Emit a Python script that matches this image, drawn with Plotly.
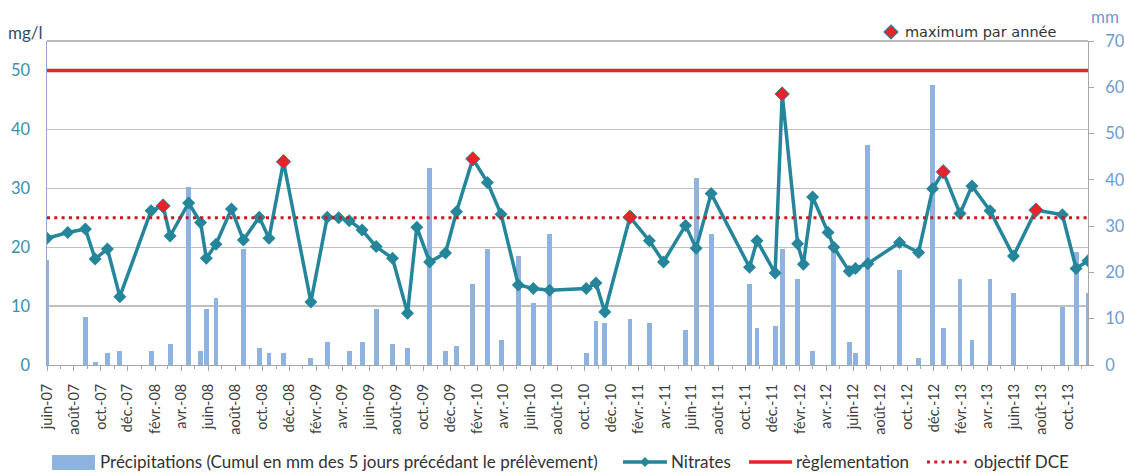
import plotly.graph_objects as go

# ---------------- data ----------------
dates = [
    "2007-06-01", "2007-07-18", "2007-08-27", "2007-09-18", "2007-10-16", "2007-11-13",
    "2008-01-23", "2008-02-19", "2008-03-06", "2008-04-17", "2008-05-14", "2008-05-27",
    "2008-06-18", "2008-07-23", "2008-08-19", "2008-09-24", "2008-10-16", "2008-11-18",
    "2009-01-19", "2009-02-25", "2009-03-23", "2009-04-16", "2009-05-15", "2009-06-16",
    "2009-07-23", "2009-08-26", "2009-09-16", "2009-10-15", "2009-11-20", "2009-12-15",
    "2010-01-21", "2010-02-23", "2010-03-26", "2010-05-04", "2010-06-07", "2010-07-14",
    "2010-10-05", "2010-10-27", "2010-11-16", "2011-01-12", "2011-02-25", "2011-03-29",
    "2011-05-18", "2011-06-11", "2011-07-15", "2011-10-10", "2011-10-27", "2011-12-07",
    "2011-12-23", "2012-01-27", "2012-02-09", "2012-03-01", "2012-04-05", "2012-04-18",
    "2012-05-23", "2012-06-06", "2012-07-04", "2012-09-14", "2012-10-27", "2012-11-28",
    "2012-12-22", "2013-01-29", "2013-02-25", "2013-04-07", "2013-05-30", "2013-07-20",
    "2013-09-18", "2013-10-19", "2013-11-15",
]
nitrates = [
    21.5, 22.5, 23.1, 18.0, 19.7, 11.6,
    26.2, 27.0, 21.9, 27.5, 24.2, 18.1,
    20.5, 26.5, 21.2, 25.1, 21.5, 34.5,
    10.7, 25.1, 25.0, 24.5, 22.9, 20.1,
    18.1, 8.8, 23.4, 17.5, 19.0, 26.0,
    35.0, 31.0, 25.6, 13.6, 13.0, 12.7,
    13.0, 13.9, 9.0, 25.1, 21.1, 17.5,
    23.7, 19.8, 29.1, 16.6, 21.1, 15.6,
    46.0, 20.6, 17.1, 28.5, 22.5, 20.0,
    15.9, 16.4, 17.2, 20.8, 19.1, 29.9,
    32.8, 25.7, 30.4, 26.2, 18.5, 26.3,
    25.5, 16.4, 17.7,
]
precipitations = [
    22.7, 0, 10.3, 0.7, 2.5, 3.1,
    3.0, 0, 4.5, 38.5, 3.0, 12.0,
    14.5, 0, 25.0, 3.6, 2.5, 2.5,
    1.6, 5.0, 0, 3.0, 5.0, 12.0,
    4.5, 3.6, 0, 42.5, 3.0, 4.0,
    17.5, 25.0, 5.4, 23.5, 13.5, 28.4,
    2.5, 9.5, 9.0, 10.0, 9.0, 0,
    7.6, 40.5, 28.4, 17.5, 7.9, 8.5,
    25.0, 18.5, 0, 3.0, 0, 25.0,
    5.0, 2.5, 47.5, 20.5, 1.6, 60.5,
    7.9, 18.5, 5.5, 18.5, 15.5, 0,
    12.6, 24.5, 15.5,
]
max_dates = ["2008-02-19", "2008-11-18", "2010-01-21", "2011-01-12",
             "2011-12-23", "2012-12-22", "2013-07-20"]
max_values = [27.0, 34.5, 35.0, 25.1, 46.0, 32.8, 26.3]

reglementation = 50
objectif_dce = 25

tick_dates = [
    "2007-06-01", "2007-08-01", "2007-10-01", "2007-12-01",
    "2008-02-01", "2008-04-01", "2008-06-01", "2008-08-01", "2008-10-01", "2008-12-01",
    "2009-02-01", "2009-04-01", "2009-06-01", "2009-08-01", "2009-10-01", "2009-12-01",
    "2010-02-01", "2010-04-01", "2010-06-01", "2010-08-01", "2010-10-01", "2010-12-01",
    "2011-02-01", "2011-04-01", "2011-06-01", "2011-08-01", "2011-10-01", "2011-12-01",
    "2012-02-01", "2012-04-01", "2012-06-01", "2012-08-01", "2012-10-01", "2012-12-01",
    "2013-02-01", "2013-04-01", "2013-06-01", "2013-08-01", "2013-10-01",
]
tick_labels = [
    "juin-07", "août-07", "oct.-07", "déc.-07",
    "févr.-08", "avr.-08", "juin-08", "août-08", "oct.-08", "déc.-08",
    "févr.-09", "avr.-09", "juin-09", "août-09", "oct.-09", "déc.-09",
    "févr.-10", "avr.-10", "juin-10", "août-10", "oct.-10", "déc.-10",
    "févr.-11", "avr.-11", "juin-11", "août-11", "oct.-11", "déc.-11",
    "févr.-12", "avr.-12", "juin-12", "août-12", "oct.-12", "déc.-12",
    "févr.-13", "avr.-13", "juin-13", "août-13", "oct.-13",
]
x_start, x_end = dates[0], dates[-1]

NAME_BARS = "Précipitations (Cumul en mm des 5 jours précédant le prélèvement)"
NAME_NITRATES = "Nitrates"
NAME_REGL = "règlementation"
NAME_DCE = "objectif DCE"
NAME_MAX = "maximum par année"

# ---------------- styles ----------------
FONT = "Lato"
BAR_COLOR = "#8fb3e0"
LINE_COLOR = "#24859b"
RED = "#e8232a"
DOT_RED = "#c8191f"
DOT_DASH = "3px,4.3px"
BAR_WIDTH_MS = 11 * 24 * 3600 * 1000

W, H = 1124, 472
L, R, T, B = 47, 36, 41, 107
PW, PH = W - L - R, H - T - B


def px(x):  # page pixel -> paper x
    return (x - L) / PW


def py(y):  # page pixel -> paper y
    return (H - B - y) / PH


fig = go.Figure()

fig.add_trace(go.Bar(
    x=dates, y=precipitations, yaxis="y", name=NAME_BARS,
    marker=dict(color=BAR_COLOR, line=dict(width=0)),
    width=BAR_WIDTH_MS,
))
fig.add_trace(go.Scatter(
    x=dates, y=nitrates, yaxis="y2", name=NAME_NITRATES,
    mode="lines+markers",
    line=dict(color=LINE_COLOR, width=3.5),
    marker=dict(symbol="diamond", size=10, color=LINE_COLOR),
))
fig.add_trace(go.Scatter(
    x=[x_start, x_end], y=[reglementation, reglementation], yaxis="y2",
    name=NAME_REGL, mode="lines", line=dict(color=RED, width=3.5),
))
fig.add_trace(go.Scatter(
    x=[x_start, x_end], y=[objectif_dce, objectif_dce], yaxis="y2",
    name=NAME_DCE, mode="lines",
    line=dict(color=DOT_RED, width=3, dash=DOT_DASH),
))
fig.add_trace(go.Scatter(
    x=max_dates, y=max_values, yaxis="y2", name=NAME_MAX,
    mode="markers",
    marker=dict(symbol="diamond", size=11, color=RED,
                line=dict(color=LINE_COLOR, width=1)),
))

# ---------------- hand-drawn legend (swatches + labels) ----------------
LEG_Y = 462
shapes = [
    # top border of the plot area
    dict(type="line", xref="paper", yref="paper", x0=0, x1=1, y0=1, y1=1,
         line=dict(color="#a6a6a6", width=1.3)),
    # bar swatch
    dict(type="rect", xref="paper", yref="paper", x0=px(52), x1=px(95),
         y0=py(470), y1=py(455), fillcolor=BAR_COLOR, line=dict(width=0)),
    # nitrates swatch
    dict(type="line", xref="paper", yref="paper", x0=px(623), x1=px(667),
         y0=py(LEG_Y), y1=py(LEG_Y), line=dict(color=LINE_COLOR, width=3.5)),
    dict(type="path", xref="paper", yref="paper",
         path=f"M {px(645)} {py(LEG_Y - 5)} L {px(650)} {py(LEG_Y)} "
              f"L {px(645)} {py(LEG_Y + 5)} L {px(640)} {py(LEG_Y)} Z",
         fillcolor=LINE_COLOR, line=dict(color=LINE_COLOR, width=0)),
    # reglementation swatch
    dict(type="line", xref="paper", yref="paper", x0=px(749), x1=px(792),
         y0=py(LEG_Y), y1=py(LEG_Y), line=dict(color=RED, width=3.5)),
    # DCE swatch
    dict(type="line", xref="paper", yref="paper", x0=px(927), x1=px(967),
         y0=py(LEG_Y), y1=py(LEG_Y), line=dict(color=DOT_RED, width=3, dash=DOT_DASH)),
    # maximum par année swatch
    dict(type="path", xref="paper", yref="paper",
         path=f"M {px(891)} {py(32 - 7)} L {px(898)} {py(32)} "
              f"L {px(891)} {py(32 + 7)} L {px(884)} {py(32)} Z",
         fillcolor=RED, line=dict(color=LINE_COLOR, width=1.2)),
]

leg_font = dict(family=FONT, size=17, color="#333333")
annotations = [
    dict(text=NAME_BARS, x=px(99), y=py(LEG_Y - 1)),
    dict(text=NAME_NITRATES, x=px(670), y=py(LEG_Y - 1)),
    dict(text=NAME_REGL, x=px(795), y=py(LEG_Y - 1)),
    dict(text=NAME_DCE, x=px(973), y=py(LEG_Y - 1)),
]
annotations = [dict(a, xref="paper", yref="paper", xanchor="left", yanchor="middle",
                    showarrow=False, font=leg_font, borderpad=0) for a in annotations]
annotations += [
    dict(text=NAME_MAX, xref="paper", yref="paper", x=px(903), y=py(32),
         xanchor="left", yanchor="middle", showarrow=False,
         font=dict(family="DejaVu Sans", size=14.5, color="#333333")),
    dict(text="mg/l", xref="paper", yref="paper", x=px(6), y=py(33),
         xanchor="left", yanchor="middle", showarrow=False,
         font=dict(family=FONT, size=17, color="#2f4f5f")),
    dict(text="mm", xref="paper", yref="paper", x=px(1089), y=py(17),
         xanchor="left", yanchor="middle", showarrow=False,
         font=dict(family=FONT, size=17, color="#6b9bd6")),
]

fig.update_layout(
    width=W, height=H,
    margin=dict(l=L, r=R, t=T, b=B),
    paper_bgcolor="white", plot_bgcolor="white",
    font=dict(family=FONT, size=14, color="#404040"),
    showlegend=False,
    bargap=0,
    hovermode=False,
    xaxis=dict(
        type="date", range=[x_start, x_end], automargin=False,
        tickmode="array", tickvals=tick_dates, ticktext=tick_labels,
        tickangle=-90, tickfont=dict(size=14.5, color="#404040"),
        ticks="outside", ticklen=5, tickcolor="#a6a6a6", ticklabelstandoff=7,
        showline=True, linecolor="#a6a6a6", linewidth=1,
        showgrid=False, zeroline=False,
        minor=dict(ticks="outside", ticklen=3, tickcolor="#a6a6a6",
                   dtick="M1", tick0="2007-06-01", showgrid=False),
    ),
    yaxis=dict(
        side="right", range=[0, 70], tickvals=[0, 10, 20, 30, 40, 50, 60, 70],
        automargin=False,
        tickfont=dict(size=16.5, color="#6b9bd6"),
        ticks="outside", ticklen=5, tickcolor="#a6a6a6", ticklabelstandoff=8,
        showline=True, linecolor="#a6a6a6", linewidth=1,
        showgrid=False, zeroline=False,
    ),
    yaxis2=dict(
        overlaying="y", side="left", range=[0, 55],
        tickvals=[0, 10, 20, 30, 40, 50], automargin=False,
        tickfont=dict(size=16.5, color="#3a8fac"), ticklabelstandoff=12,
        ticks="", showline=True, linecolor="#8fa8cf", linewidth=1.5,
        showgrid=True, gridcolor="#c0c0c0", gridwidth=1.3,
        zeroline=False,
    ),
    shapes=shapes,
    annotations=annotations,
)

fig.write_html(
    "out.html",
    config={"displayModeBar": False, "staticPlot": True},
    post_script="document.body.style.margin='0';document.body.style.overflow='hidden';",
)
